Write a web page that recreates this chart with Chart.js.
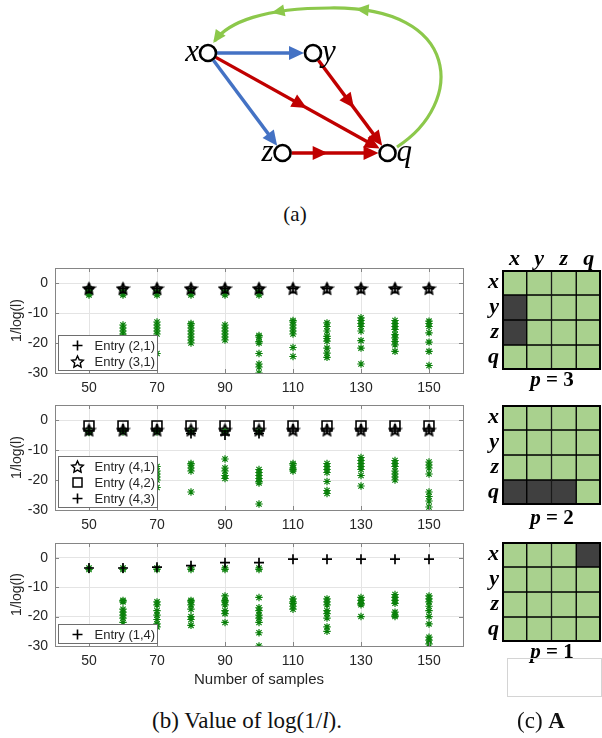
<!DOCTYPE html>
<html>
<head>
<meta charset="utf-8">
<script src="https://cdn.jsdelivr.net/npm/chart.js@4.4.0/dist/chart.umd.min.js"></script>
<style>
  html, body { margin: 0; padding: 0; background: #fff; }
  #fig { position: relative; width: 602px; height: 738px; overflow: hidden; }
  #fig canvas { position: absolute; }
  .cap { position: absolute; font-family: 'Liberation Serif', 'Times New Roman', serif; font-size: 23px; color: #111;
         white-space: nowrap; transform: translate(-50%, -50%); }
  .plab { position: absolute; font-family: 'Liberation Serif', serif; font-weight: bold; font-size: 21px; color: #000;
          white-space: nowrap; transform: translate(-50%, -50%); }
  #emptyBox { position: absolute; left: 507px; top: 658px; width: 93px; height: 37px; border: 1px solid #d4d4d4; }
</style>
</head>
<body>
<div id="fig">
  <canvas id="graph" width="310" height="200" style="left:150px;top:0px"></canvas>
  <div class="cap" style="left:295px;top:214px;font-size:21px">(a)</div>

  <canvas id="p1" width="470" height="140" style="left:0px;top:260px"></canvas>
  <canvas id="p2" width="470" height="140" style="left:0px;top:397px"></canvas>
  <canvas id="p3" width="470" height="165" style="left:0px;top:535px"></canvas>

  <canvas id="m1" width="132" height="131" style="left:470px;top:240px"></canvas>
  <div class="plab" style="left:552px;top:379px"><i>p</i> = 3</div>
  <canvas id="m2" width="132" height="106" style="left:470px;top:400px"></canvas>
  <div class="plab" style="left:552px;top:517px"><i>p</i> = 2</div>
  <canvas id="m3" width="132" height="106" style="left:470px;top:537px"></canvas>
  <div class="plab" style="left:552px;top:651px"><i>p</i> = 1</div>
  <div id="emptyBox"></div>

  <div class="cap" style="left:247px;top:721px">(b) Value of log(1/<i>l</i>).</div>
  <div class="cap" style="left:541px;top:721px">(c) <b>A</b></div>
</div>

<script>
(function () {
  'use strict';

  // ── Data ─────────────────────────────────────────────────────────────────
  const samples = [50, 60, 70, 80, 90, 100, 110, 120, 130, 140, 150];
  const xTicks  = [50, 70, 90, 110, 130, 150];
  const yTicks  = [-30, -20, -10, 0];

  // panel 1 : p = 3
  const p1Entry21 = [-1.8, -1.8, -1.8, -1.8, -1.8, -1.8, -1.8, -1.8, -1.8, -1.8, -1.8];
  const p1Entry31 = [-1.8, -1.8, -1.8, -1.8, -1.8, -1.8, -1.8, -1.8, -1.8, -1.8, -1.8];
  const p1Others = [
    [-2, -2.5, -3, -3.5, -4],
    [-2.5, -3.5, -4, -14, -15, -16, -17, -18, -19.5, -21],
    [-2.5, -3.5, -4, -13, -14, -15, -16, -17, -23.5],
    [-2.5, -3.5, -4, -13.5, -14, -15, -16, -17, -18, -19, -20],
    [-2.5, -3.5, -4, -14, -15, -16, -17, -18, -19],
    [-2.5, -3.5, -4, -17.5, -18, -19.5, -20, -23.5, -27, -28, -30],
    [-12.5, -13, -14, -15, -16, -17, -21.5, -24.5],
    [-13.3, -14.5, -16, -17.8, -18.5, -19.4, -21.7, -23.4, -24.8],
    [-11.6, -12.5, -13.5, -14.5, -16, -19.2, -21.7, -27],
    [-12.5, -13.5, -14.5, -15.5, -17.2, -18.3, -19.5, -20.6, -22.8],
    [-12.7, -13.5, -14.5, -16.6, -19.7, -22.8, -27.5],
  ];

  // panel 2 : p = 2
  const p2Entry41 = [-3.3, -3.3, -3.3, -3.3, -3.3, -3.3, -3.3, -3.3, -3.3, -3.3, -3.3];
  const p2Entry42 = [-2, -2, -2, -2, -2, -2, -2, -2, -2, -2, -2];
  const p2Entry43 = [-3.5, -3, -3, -4.5, -5, -4.5, -3, -3, -3, -3, -3];
  const p2Others = [
    [-3.5, -4.2],
    [-3.5, -4, -15, -17, -19, -21],
    [-3.5, -4, -15.5, -17, -18, -19, -20, -22.5],
    [-3.5, -4, -14.5, -15, -16, -17, -24],
    [-3.5, -4, -13, -16, -17, -18.5, -19.5],
    [-3.5, -4, -16.5, -17.5, -18.5, -19.5, -20.5, -21, -28],
    [-14.5, -15, -16, -16.5, -17],
    [-14.5, -15.5, -16.5, -17.5, -20.5, -23.5, -24.5],
    [-12.5, -13.5, -14.5, -15.5, -16.5, -18.5, -22],
    [-13.5, -14.5, -15.5, -17, -18, -19, -20],
    [-14, -15, -16, -18, -24, -25.5, -27, -29],
  ];

  // panel 3 : p = 1
  const p3Entry14 = [-3.5, -3.5, -3.2, -2.7, -1.7, -1.7, -0.5, -0.5, -0.5, -0.5, -0.5];
  const p3Others = [
    [-3.5, -4],
    [-3.5, -4, -14.5, -15, -17.5, -18.5, -19.5, -20.5, -22],
    [-3.5, -4, -15, -16, -18, -19.5, -21, -22.5, -23.5],
    [-3.5, -4, -14.5, -15, -16, -17.5, -20, -21, -23],
    [-3.5, -4, -13, -14.5, -15, -16, -18, -19, -22],
    [-3.5, -4, -13.5, -17, -18, -19.5, -20.5, -22, -25.5, -30],
    [-14, -15, -15.5, -16.5, -17.5],
    [-14, -15, -16, -18, -19, -20.5, -23.5, -25],
    [-13.5, -14.5, -15.5, -16, -20],
    [-12.5, -13.5, -14.5, -15.5, -18.5, -19.5, -20],
    [-13, -14, -15, -16.5, -18, -20, -22.5, -27, -28, -29.3],
  ];

  // graph (a): node layout, edges, feedback loop (bezier control points)
  const nodeNames = ['x', 'y', 'z', 'q'];
  const nodeX     = [0, 1, 0.71, 1.71];
  const nodeY     = [0, 0, 1, 1];
  const edges = [
    { from: 'x', to: 'y', kind: 'blue' },
    { from: 'x', to: 'z', kind: 'blue' },
    { from: 'x', to: 'q', kind: 'red', mid: 0.55 },
    { from: 'y', to: 'q', kind: 'red', mid: 0.55 },
    { from: 'z', to: 'q', kind: 'red', mid: 0.43 },
  ];
  const loopPts = [[1.80, 0.94], [2.45, 0.50], [2.42, -0.47], [1.16, -0.45],
                   [0.54, -0.45], [0.19, -0.31], [0.05, -0.10]];
  const loopArrows = [[0, 0.93], [1, 0.35], [1, 1]];

  // matrices (c): 1 = dark cell
  const rowNames = ['x', 'y', 'z', 'q'];
  const colNames = ['x', 'y', 'z', 'q'];
  const matP3 = [[0, 0, 0, 0], [1, 0, 0, 0], [1, 0, 0, 0], [0, 0, 0, 0]];
  const matP2 = [[0, 0, 0, 0], [0, 0, 0, 0], [0, 0, 0, 0], [1, 1, 1, 0]];
  const matP1 = [[0, 0, 0, 1], [0, 0, 0, 0], [0, 0, 0, 0], [0, 0, 0, 0]];

  // ── Styles ───────────────────────────────────────────────────────────────
  const SANS   = "'Liberation Sans', Arial, Helvetica, sans-serif";
  const SERIF  = "'Liberation Serif', 'Times New Roman', serif";
  const TXT    = '#262626';
  const AXIS   = '#858585';
  const GRID   = '#e4e4e4';
  const GREEN_PT = '#0a800a';
  const BLUE   = '#4472c4';
  const RED    = '#c00000';
  const LOOP   = '#8cc84b';
  const CELL   = '#a9d18e';
  const CELL_D = '#404040';

  // scales: drop the label overhang padding chart.js adds around the area
  const noPad = s => { s.paddingTop = 0; s.paddingBottom = 0; s.paddingLeft = 0; s.paddingRight = 0; };

  // pentagram marker (MATLAB 'p')
  function makePentagram(size, lw) {
    const c = document.createElement('canvas');
    c.width = c.height = size;
    const g = c.getContext('2d');
    const R = size / 2 - lw, r = R * 0.48, cx = size / 2, cy = size / 2 + 0.6;
    g.beginPath();
    for (let i = 0; i < 10; i++) {
      const a = -Math.PI / 2 + i * Math.PI / 5;
      const rr = i % 2 ? r : R;
      g.lineTo(cx + rr * Math.cos(a), cy + rr * Math.sin(a));
    }
    g.closePath();
    g.lineWidth = lw;
    g.strokeStyle = '#000';
    g.stroke();
    return c;
  }
  const PENTA = makePentagram(15, 1.4);
  const PENTA_BOLD = makePentagram(15, 1.9);

  const flat = (vals) => samples.map((s, i) => ({ x: s, y: vals[i] }));
  const flatGroups = (groups) => groups.flatMap((g, i) => g.map(v => ({ x: samples[i], y: v })));

  function blackSet(label, vals, style) {
    const base = { label, data: flat(vals), order: 0, borderColor: '#000', backgroundColor: 'rgba(0,0,0,0)' };
    if (style === 'cross') return { ...base, pointStyle: 'cross', pointRadius: 5, pointBorderWidth: 1.7 };
    if (style === 'rect')  return { ...base, pointStyle: 'rect', pointRadius: 7, pointBorderWidth: 1.6 };
    return { ...base, pointStyle: PENTA_BOLD, pointRadius: 7 };
  }
  function greenSet(groups) {
    return { data: flatGroups(groups), order: 1, pointStyle: 'star', pointRadius: 3.7,
             pointBorderWidth: 1.2, borderColor: GREEN_PT, backgroundColor: GREEN_PT };
  }

  // ── Plugins ──────────────────────────────────────────────────────────────
  function drawMarker(ctx, style, x, y) {
    ctx.save();
    ctx.strokeStyle = '#000';
    ctx.lineWidth = 1.6;
    if (style === 'cross') {
      ctx.beginPath();
      ctx.moveTo(x - 5, y); ctx.lineTo(x + 5, y);
      ctx.moveTo(x, y - 5); ctx.lineTo(x, y + 5);
      ctx.stroke();
    } else if (style === 'rect') {
      ctx.lineWidth = 1.5;
      ctx.strokeRect(x - 4.5, y - 4.5, 9, 9);
    } else {
      ctx.drawImage(PENTA, x - PENTA.width / 2, y - PENTA.height / 2);
    }
    ctx.restore();
  }

  // MATLAB-like box, inward ticks and inner legend
  const matlabBox = {
    id: 'matlabBox',
    afterDraw(chart, args, opts) {
      const { ctx, chartArea: a, scales: { x, y } } = chart;
      ctx.save();
      ctx.strokeStyle = AXIS;
      ctx.lineWidth = 1;
      ctx.strokeRect(Math.round(a.left) + 0.5, Math.round(a.top) + 0.5,
                     Math.round(a.right - a.left), Math.round(a.bottom - a.top));
      ctx.beginPath();
      xTicks.forEach(v => {
        const px = Math.round(x.getPixelForValue(v)) + 0.5;
        ctx.moveTo(px, a.bottom); ctx.lineTo(px, a.bottom - 4);
        ctx.moveTo(px, a.top);    ctx.lineTo(px, a.top + 4);
      });
      yTicks.forEach(v => {
        const py = Math.round(y.getPixelForValue(v)) + 0.5;
        ctx.moveTo(a.left, py);  ctx.lineTo(a.left + 4, py);
        ctx.moveTo(a.right, py); ctx.lineTo(a.right - 4, py);
      });
      ctx.stroke();

      // legend box, bottom-left inside the axes
      const items = opts.items || [];
      const w = 99, h = items.length * 16 + 3;
      const lx = Math.round(a.left) + 3.5, ly = Math.round(a.bottom) - 2.5 - h;
      ctx.fillStyle = '#fff';
      ctx.fillRect(lx, ly, w, h);
      ctx.strokeStyle = '#6e6e6e';
      ctx.strokeRect(lx, ly, w, h);
      ctx.font = '13px ' + SANS;
      ctx.fillStyle = TXT;
      ctx.textBaseline = 'middle';
      ctx.textAlign = 'left';
      items.forEach((it, i) => {
        const cy = ly + 10 + i * 16;
        drawMarker(ctx, it.style, lx + 19, cy);
        ctx.fillText(it.label, lx + 36, cy + 0.5);
      });
      ctx.restore();
    },
  };

  function makePanel(id, datasets, items, axisHeight, showXTitle) {
    new Chart(document.getElementById(id), {
      type: 'scatter',
      data: { datasets },
      options: {
        responsive: false,
        animation: false,
        events: [],
        layout: { autoPadding: false, padding: { top: 8, right: 7, left: 0, bottom: 0 } },
        plugins: { legend: { display: false }, tooltip: { enabled: false }, matlabBox: { items } },
        scales: {
          x: {
            type: 'linear', min: 40, max: 160,
            afterBuildTicks: s => { s.ticks = xTicks.map(v => ({ value: v })); },
            afterFit: s => { s.height = axisHeight; noPad(s); },
            grid: { color: GRID, drawTicks: false },
            border: { display: false },
            ticks: { padding: 7, color: TXT, maxRotation: 0, autoSkip: false, font: { family: SANS, size: 14 } },
            title: {
              display: showXTitle, text: 'Number of samples', color: TXT,
              font: { family: SANS, size: 15 }, padding: { top: 0, bottom: 11 },
            },
          },
          y: {
            type: 'linear', min: -30, max: 5,
            afterBuildTicks: s => { s.ticks = yTicks.map(v => ({ value: v })); },
            afterFit: s => { s.width = 55; noPad(s); },
            grid: { color: GRID, drawTicks: false },
            border: { display: false },
            ticks: { padding: 7, color: TXT, autoSkip: false, font: { family: SANS, size: 14 } },
            title: {
              display: true, text: '1/log(l)', color: TXT,
              font: { family: SANS, size: 14 }, padding: { top: 8.5, bottom: 0 },
            },
          },
        },
      },
      plugins: [matlabBox],
    });
  }

  makePanel('p1', [
    blackSet('Entry (2,1)', p1Entry21, 'cross'),
    blackSet('Entry (3,1)', p1Entry31, 'penta'),
    greenSet(p1Others),
  ], [
    { label: 'Entry (2,1)', style: 'cross' },
    { label: 'Entry (3,1)', style: 'penta' },
  ], 27, false);

  makePanel('p2', [
    blackSet('Entry (4,1)', p2Entry41, 'penta'),
    blackSet('Entry (4,2)', p2Entry42, 'rect'),
    blackSet('Entry (4,3)', p2Entry43, 'cross'),
    greenSet(p2Others),
  ], [
    { label: 'Entry (4,1)', style: 'penta' },
    { label: 'Entry (4,2)', style: 'rect' },
    { label: 'Entry (4,3)', style: 'cross' },
  ], 27, false);

  makePanel('p3', [
    blackSet('Entry (1,4)', p3Entry14, 'cross'),
    greenSet(p3Others),
  ], [
    { label: 'Entry (1,4)', style: 'cross' },
  ], 54, true);

  // ── Graph (a) ────────────────────────────────────────────────────────────
  function bez(p0, p1, p2, p3, t) {
    const u = 1 - t;
    return [
      u * u * u * p0[0] + 3 * u * u * t * p1[0] + 3 * u * t * t * p2[0] + t * t * t * p3[0],
      u * u * u * p0[1] + 3 * u * u * t * p1[1] + 3 * u * t * t * p2[1] + t * t * t * p3[1],
    ];
  }
  function bezTan(p0, p1, p2, p3, t) {
    const u = 1 - t;
    return [
      3 * u * u * (p1[0] - p0[0]) + 6 * u * t * (p2[0] - p1[0]) + 3 * t * t * (p3[0] - p2[0]),
      3 * u * u * (p1[1] - p0[1]) + 6 * u * t * (p2[1] - p1[1]) + 3 * t * t * (p3[1] - p2[1]),
    ];
  }
  function arrowHead(ctx, tip, dir, color, len, half) {
    const m = Math.hypot(dir[0], dir[1]);
    const ux = dir[0] / m, uy = dir[1] / m;
    ctx.fillStyle = color;
    ctx.beginPath();
    ctx.moveTo(tip[0], tip[1]);
    ctx.lineTo(tip[0] - ux * len - uy * half, tip[1] - uy * len + ux * half);
    ctx.lineTo(tip[0] - ux * len + uy * half, tip[1] - uy * len - ux * half);
    ctx.closePath();
    ctx.fill();
  }

  const R_NODE = 9;
  const graphPlugin = {
    id: 'graph',
    beforeDatasetsDraw(chart) {
      const { ctx, scales: { x, y } } = chart;
      const P = p => [x.getPixelForValue(p[0]), y.getPixelForValue(p[1])];
      const node = n => { const i = nodeNames.indexOf(n); return P([nodeX[i], nodeY[i]]); };
      ctx.save();

      // feedback loop q -> x
      const c = loopPts.map(P);
      const segs = [[c[0], c[1], c[2], c[3]], [c[3], c[4], c[5], c[6]]];
      ctx.strokeStyle = LOOP;
      ctx.lineWidth = 3.2;
      ctx.beginPath();
      ctx.moveTo(c[0][0], c[0][1]);
      ctx.bezierCurveTo(c[1][0], c[1][1], c[2][0], c[2][1], c[3][0], c[3][1]);
      const end = bez(...segs[1], 0.97);
      ctx.bezierCurveTo(c[4][0], c[4][1], c[5][0], c[5][1], end[0], end[1]);
      ctx.stroke();
      loopArrows.forEach(([si, t]) => {
        arrowHead(ctx, bez(...segs[si], t), bezTan(...segs[si], t), LOOP, 13, 6);
      });

      // straight edges
      edges.forEach(e => {
        const A = node(e.from), B = node(e.to);
        const dx = B[0] - A[0], dy = B[1] - A[1], L = Math.hypot(dx, dy);
        const ux = dx / L, uy = dy / L;
        const col = e.kind === 'blue' ? BLUE : RED;
        const s = [A[0] + ux * R_NODE, A[1] + uy * R_NODE];
        const tip = [B[0] - ux * R_NODE, B[1] - uy * R_NODE];
        ctx.strokeStyle = col;
        ctx.lineWidth = 3.4;
        ctx.beginPath();
        ctx.moveTo(s[0], s[1]);
        ctx.lineTo(tip[0] - ux * 8, tip[1] - uy * 8);
        ctx.stroke();
        arrowHead(ctx, tip, [ux, uy], col, 15, 7);
        if (e.mid) arrowHead(ctx, [A[0] + dx * e.mid, A[1] + dy * e.mid], [ux, uy], col, 15, 7);
      });
      ctx.restore();
    },
    afterDatasetsDraw(chart) {
      const { ctx, scales: { x, y } } = chart;
      ctx.save();
      ctx.font = 'italic 31px ' + SERIF;
      ctx.fillStyle = '#000';
      ctx.textBaseline = 'alphabetic';
      nodeNames.forEach((n, i) => {
        const px = x.getPixelForValue(nodeX[i]), py = y.getPixelForValue(nodeY[i]);
        const left = n === 'x' || n === 'z';
        ctx.textAlign = left ? 'right' : 'left';
        ctx.fillText(n, left ? px - 9 : px + 9, py + 8);
      });
      ctx.restore();
    },
  };

  new Chart(document.getElementById('graph'), {
    type: 'scatter',
    data: {
      datasets: [{
        data: nodeNames.map((n, i) => ({ x: nodeX[i], y: nodeY[i] })),
        pointRadius: 8, pointBorderWidth: 2.6,
        borderColor: '#000', backgroundColor: '#fff',
      }],
    },
    options: {
      responsive: false,
      animation: false,
      events: [],
      layout: { autoPadding: false, padding: 0 },
      plugins: { legend: { display: false }, tooltip: { enabled: false } },
      scales: {
        x: { type: 'linear', display: false, min: -0.5524, max: 2.4 },
        y: { type: 'linear', display: false, min: -0.53, max: 1.47, reverse: true },
      },
    },
    plugins: [graphPlugin],
  });

  // ── Matrices (c) ─────────────────────────────────────────────────────────
  const matrixFrame = {
    id: 'matrixFrame',
    afterDatasetsDraw(chart) {
      const { ctx, chartArea: a } = chart;
      ctx.save();
      ctx.strokeStyle = '#000';
      ctx.lineWidth = 2;
      ctx.strokeRect(a.left + 1, a.top + 1, a.right - a.left - 2, a.bottom - a.top - 2);
      ctx.restore();
    },
  };

  function makeMatrix(id, cells, showCols) {
    const datasets = rowNames.map((r, ri) => ({
      data: colNames.map(() => [ri, ri + 1]),
      backgroundColor: colNames.map((c, ci) => cells[ri][ci] ? CELL_D : CELL),
      borderColor: '#000',
      borderWidth: 1,
      borderSkipped: false,
      grouped: false,
      barPercentage: 1,
      categoryPercentage: 1,
    }));
    const labelFont = { family: SERIF, size: 22, style: 'italic', weight: 'bold' };
    new Chart(document.getElementById(id), {
      type: 'bar',
      data: { labels: colNames, datasets },
      options: {
        responsive: false,
        animation: false,
        events: [],
        layout: { autoPadding: false, padding: { top: showCols ? 0 : 5, right: 1, bottom: 1, left: 0 } },
        plugins: { legend: { display: false }, tooltip: { enabled: false } },
        scales: {
          x: {
            position: 'top', display: showCols,
            grid: { display: false, drawTicks: false }, border: { display: false },
            afterFit: s => { s.height = showCols ? 30 : 0; noPad(s); },
            ticks: { color: '#000', padding: -3, autoSkip: false, font: labelFont },
          },
          y: {
            type: 'linear', min: 0, max: 4, reverse: true,
            grid: { display: false, drawTicks: false }, border: { display: false },
            afterBuildTicks: s => { s.ticks = rowNames.map((r, i) => ({ value: i + 0.5 })); },
            afterFit: s => { s.width = 32; noPad(s); },
            ticks: { color: '#000', padding: 3, autoSkip: false, font: labelFont,
                     callback: v => rowNames[Math.floor(v)] },
          },
        },
      },
      plugins: [matrixFrame],
    });
  }

  makeMatrix('m1', matP3, true);
  makeMatrix('m2', matP2, false);
  makeMatrix('m3', matP1, false);
})();
</script>
</body>
</html>
